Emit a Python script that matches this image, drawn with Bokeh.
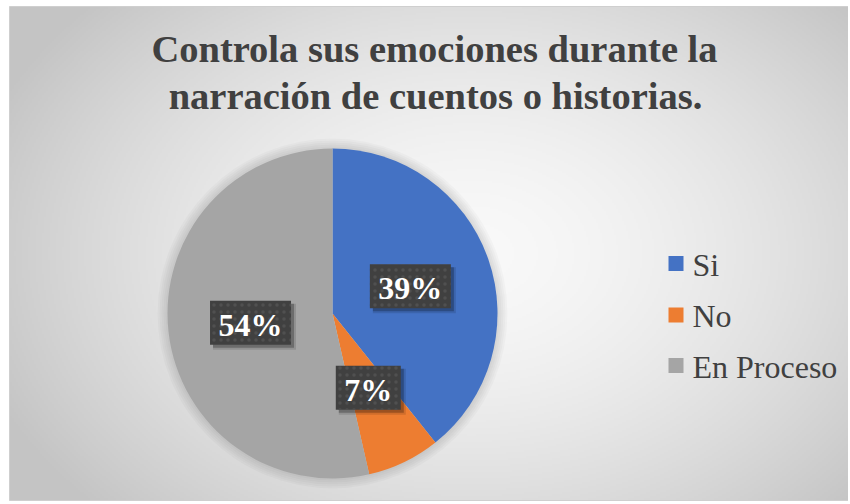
import numpy as np
from bokeh.plotting import figure
from bokeh.models import ColumnDataSource
from bokeh.core.properties import value
from bokeh.embed import file_html
from bokeh.resources import INLINE

# ---- data ----
title_lines = ["Controla sus emociones durante la", "narración de cuentos o historias."]
categories = ["Si", "No", "En Proceso"]
counts = [11, 2, 15]
colors = ["#4472C4", "#ED7D31", "#A5A5A5"]

W, H = 848, 502
# chart area (x0, x1, y0, y1) in data units (y up)
AX0, AX1, AY0, AY1 = 9, 848, 2, 496
CX, CY, R = 332, 189, 165
SERIF = value("Liberation Serif")

p = figure(width=W, height=H, x_range=(0, W), y_range=(0, H),
           output_backend="svg", toolbar_location=None,
           x_axis_location=None, y_axis_location=None, min_border=0)
p.grid.visible = False
p.outline_line_color = None
p.background_fill_color = "white"
p.border_fill_color = "white"

# ---- radial gradient background (decoration) ----
aw, ah = AX1 - AX0, AY1 - AY0
w2, h2 = aw // 2, ah // 2
xs = (np.arange(w2) + 0.5) / w2 * aw
ys = (np.arange(h2) + 0.5) / h2 * ah
X, Y = np.meshgrid(xs, ys)
d = np.sqrt(((X - aw * 0.55) / (aw * 0.62)) ** 2 + ((Y - ah * 0.5) / (ah * 0.75)) ** 2)
d = np.clip(d, 0, 1) ** 1.6
v = (249 - (249 - 196) * d).astype(np.uint32)
img = (255 << 24) | (v << 16) | (v << 8) | v
p.image_rgba(image=[img.astype(np.uint32)], x=AX0, y=AY0, dw=aw, dh=ah)
p.quad(left=AX0, right=AX1, bottom=AY0, top=AY1, fill_color=None,
       line_color="#cfcfcf", line_width=1)

# ---- pie ----
vals = np.array(counts, dtype=float)
frac = vals / vals.sum()
cum = np.concatenate([[0], np.cumsum(frac)])
start = np.pi / 2 - 2 * np.pi * cum[:-1]
end = np.pi / 2 - 2 * np.pi * cum[1:]
mid = (start + end) / 2
labels = [f"{round(f * 100)}%" for f in frac]

# soft shadow around pie
for k in range(1, 6):
    p.circle(x=[CX], y=[CY], radius=R + 2 * k, fill_color="black",
             fill_alpha=0.022, line_color=None)

src = ColumnDataSource(dict(start=start, end=end, color=colors, cat=categories))
p.wedge(x=CX, y=CY, radius=R, start_angle="start", end_angle="end",
        direction="clock", fill_color="color", line_color=None, source=src)

lx = CX + 0.5 * R * np.cos(mid)
ly = CY + 0.5 * R * np.sin(mid)
bw = [33 + 16 * len(s) for s in labels]
bh = [44] * len(labels)

p.rect(x=lx + 4, y=ly - 4, width=[b + 2 for b in bw], height=[h + 2 for h in bh],
       fill_color="black", fill_alpha=0.12, line_color=None)
p.rect(x=lx + 3, y=ly - 3, width=bw, height=bh,
       fill_color="black", fill_alpha=0.25, line_color=None)
p.rect(x=lx, y=ly, width=bw, height=bh, fill_color="#404040", line_color=None,
       hatch_pattern="dot", hatch_color="#505050", hatch_scale=7, hatch_weight=1.1)
p.text(x=lx, y=ly - 2, text=labels, text_align="center", text_baseline="alphabetic",
       text_font=SERIF, text_font_style="bold", text_font_size="32px", text_color="white")

# ---- title ----
p.text(x=[434, 435], y=[454, 407], text=title_lines, text_align="center",
       text_baseline="alphabetic", text_font=SERIF, text_font_style="bold",
       text_font_size="38.5px", text_color="#404040")

# ---- legend ----
leg_y = np.array([239, 187.5, 137])
p.rect(x=[675.5] * 3, y=leg_y, width=15, height=15, fill_color=colors, line_color=None)
p.text(x=[692] * 3, y=leg_y - 1, text=categories, text_align="left",
       text_baseline="alphabetic", text_font=SERIF, text_font_size="32px",
       text_color="#404040")

open("out.html", "w").write(file_html(p, INLINE))
